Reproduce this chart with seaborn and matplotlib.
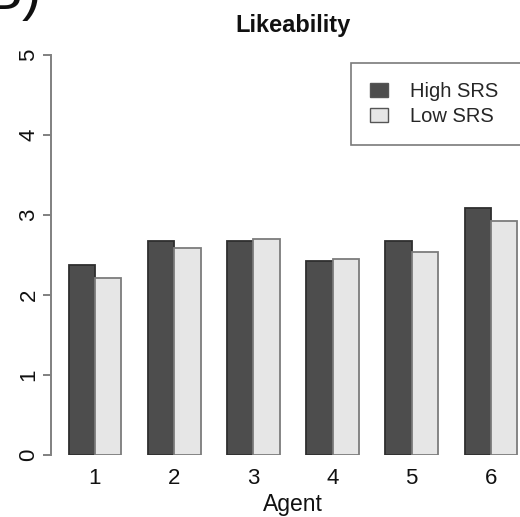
import matplotlib
matplotlib.use("Agg")
import matplotlib.pyplot as plt
import seaborn as sns
import pandas as pd

agents = ["1", "2", "3", "4", "5", "6"]
groups = ["High SRS", "Low SRS"]
high_srs = [2.38, 2.67, 2.68, 2.43, 2.67, 3.09]
low_srs = [2.21, 2.59, 2.70, 2.45, 2.54, 2.93]
y_ticks = [0, 1, 2, 3, 4, 5]

df = pd.DataFrame({
    "Agent": agents * 2,
    "Group": [groups[0]] * len(agents) + [groups[1]] * len(agents),
    "Score": high_srs + low_srs,
})

sns.set_theme(style="white")
plt.rcParams["font.family"] = ["Liberation Sans", "DejaVu Sans"]

W, H = 520, 517
fig = plt.figure(figsize=(W / 100, H / 100), dpi=100)

# axes box in pixel terms (extends a little past the right edge of the canvas)
left_px, right_px = 50.6, 535.3
bottom_px, top_px = 455.0, 39.0
ax = fig.add_axes([left_px / W, 1 - bottom_px / H,
                   (right_px - left_px) / W, (bottom_px - top_px) / H])

palette = {"High SRS": "#4d4d4d", "Low SRS": "#e6e6e6"}
sns.barplot(data=df, x="Agent", y="Score", hue="Group", order=agents,
            hue_order=groups, palette=palette, width=2 / 3, gap=0,
            saturation=1, errorbar=None, ax=ax)

edge_cols = {0: "#2e2e2e", 1: "#7c7c7c"}
for i, cont in enumerate(ax.containers):
    for p in cont.patches:
        p.set_edgecolor(edge_cols[i])
        p.set_linewidth(1.3)

ax.set_xlim(-0.56, 5.56)
ax.set_ylim(0, 5.2)

for side in ["top", "right", "bottom"]:
    ax.spines[side].set_visible(False)
ax.spines["left"].set_bounds(0, 5)
ax.spines["left"].set_color("#808080")
ax.spines["left"].set_linewidth(1.4)

ax.set_yticks(y_ticks)
ax.set_yticklabels([str(t) for t in y_ticks], rotation=90, va="center")
ax.tick_params(axis="y", left=True, length=5.5, width=1.4, color="#808080",
               labelsize=16, pad=2.5, labelcolor="#111111")
ax.tick_params(axis="x", bottom=False, length=0, labelsize=16, pad=9,
               labelcolor="#111111")

ax.set_xlabel("Agent", fontsize=16.5, color="#111111", labelpad=3.5)
ax.set_ylabel("")
ax.set_title("Likeability", fontsize=17, fontweight="bold", pad=5,
             color="#111111")

handles, labels = ax.get_legend_handles_labels()
ax.legend(handles, labels, loc="upper left",
          bbox_to_anchor=(351 / W, 1 - 63 / H, (560 - 351) / W, 0.0),
          bbox_transform=fig.transFigure, mode="expand", borderaxespad=0,
          frameon=True, fancybox=False, edgecolor="#7a7a7a",
          fontsize=14.5, handlelength=0.9, handleheight=0.65,
          handletextpad=1.1, labelspacing=0.3, borderpad=0.95,
          framealpha=1)
ax.get_legend().get_frame().set_linewidth(1.2)
for h in ax.get_legend().legend_handles:
    h.set_edgecolor("#555555")
    h.set_linewidth(1.0)

fig.text(-17 / W, 1 - 9 / H, "B)", fontsize=42, va="baseline", ha="left",
         color="#111111")

fig.savefig("out.png", dpi=100)
